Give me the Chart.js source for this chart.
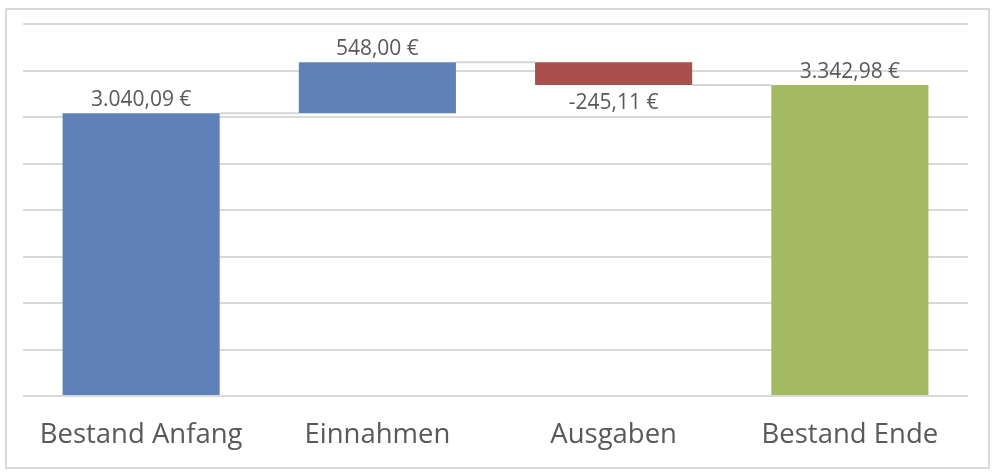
<!DOCTYPE html>
<html>
<head>
<meta charset="utf-8">
<script src="https://cdn.jsdelivr.net/npm/chart.js@4"></script>
<style>
  html, body { margin: 0; padding: 0; background: #fff; }
  body { width: 992px; height: 473px; position: relative; overflow: hidden; }
  .frame {
    position: absolute; left: 5px; top: 8px; width: 981px; height: 457px;
    border: 2px solid #d9d9d9;
  }
  #wrap { position: absolute; left: 0; top: 0; width: 992px; height: 473px; }
</style>
</head>
<body>
<div class="frame"></div>
<div id="wrap"><canvas id="waterfall"></canvas></div>
<script>
// chart data
const categories = ['Bestand Anfang', 'Einnahmen', 'Ausgaben', 'Bestand Ende'];
const amounts = [3040.09, 548.00, -245.11, 3342.98];
const kinds = ['total', 'delta', 'delta', 'total'];
const yTicks = [0, 500, 1000, 1500, 2000, 2500, 3000, 3500, 4000];

const colors = { total: '#6080ba', up: '#6080ba', down: '#a94f4e', end: '#a3ba62' };
const fontFamily = '"Open Sans", sans-serif';

// build floating ranges for waterfall
let running = 0;
const ranges = amounts.map((v, i) => {
    if (kinds[i] === 'total') {
        running = v;
        return [0, v];
    }
    const start = running;
    running += v;
    return [start, running];
});
const barColors = amounts.map((v, i) => {
    if (i === amounts.length - 1) return colors.end;
    if (kinds[i] === 'total') return colors.total;
    return v < 0 ? colors.down : colors.up;
});

function euro(v) {
    const neg = v < 0;
    const parts = Math.abs(v).toFixed(2).split('.');
    const whole = parts[0].replace(/\B(?=(\d{3})+(?!\d))/g, '.');
    return (neg ? '-' : '') + whole + ',' + parts[1] + ' €';
}

// connector lines between bars
const connectors = {
    id: 'connectors',
    beforeDatasetsDraw(chart) {
        const ctx = chart.ctx;
        const bars = chart.getDatasetMeta(0).data;
        const y = chart.scales.y;
        ctx.save();
        ctx.strokeStyle = '#d4d4d4';
        ctx.lineWidth = 2;
        for (let i = 0; i < bars.length - 1; i++) {
            const level = ranges[i][1];
            const py = y.getPixelForValue(level);
            ctx.beginPath();
            ctx.moveTo(bars[i].x + bars[i].width / 2, py);
            ctx.lineTo(bars[i + 1].x - bars[i + 1].width / 2, py);
            ctx.stroke();
        }
        ctx.restore();
    }
};

// value labels
const valueLabels = {
    id: 'valueLabels',
    afterDatasetsDraw(chart) {
        const ctx = chart.ctx;
        const bars = chart.getDatasetMeta(0).data;
        const y = chart.scales.y;
        ctx.save();
        ctx.font = '21px ' + fontFamily;
        ctx.fillStyle = '#595959';
        ctx.textAlign = 'center';
        ctx.textBaseline = 'alphabetic';
        bars.forEach((bar, i) => {
            const v = amounts[i];
            if (v >= 0) {
                ctx.fillText(euro(v), bar.x, y.getPixelForValue(Math.max(...ranges[i])) - 7);
            } else {
                ctx.fillText(euro(v), bar.x, y.getPixelForValue(Math.min(...ranges[i])) + 24);
            }
        });
        ctx.restore();
    }
};

const ctx = document.getElementById('waterfall').getContext('2d');

new Chart(ctx, {
    type: 'bar',
    data: {
        labels: categories,
        datasets: [{
            data: ranges,
            backgroundColor: barColors,
            borderWidth: 0,
            categoryPercentage: 1,
            barPercentage: 0.665
        }]
    },
    options: {
        responsive: true,
        maintainAspectRatio: false,
        animation: false,
        layout: { padding: { left: 23, right: 24, top: 24, bottom: 0 } },
        plugins: {
            legend: { display: false },
            tooltip: { enabled: false }
        },
        scales: {
            x: {
                grid: { display: false },
                border: { display: false },
                ticks: {
                    color: '#595959',
                    font: { size: 27.5, family: fontFamily },
                    padding: 15
                },
                afterFit: (scale) => { scale.height = 77; }
            },
            y: {
                min: yTicks[0],
                max: yTicks[yTicks.length - 1],
                afterBuildTicks: (scale) => { scale.ticks = yTicks.map(v => ({ value: v })); },
                ticks: { display: false },
                grid: { color: '#d9d9d9', lineWidth: 2, drawTicks: false },
                border: { display: false },
                afterFit: (scale) => { scale.width = 0; }
            }
        }
    },
    plugins: [connectors, valueLabels]
});
</script>
</body>
</html>
